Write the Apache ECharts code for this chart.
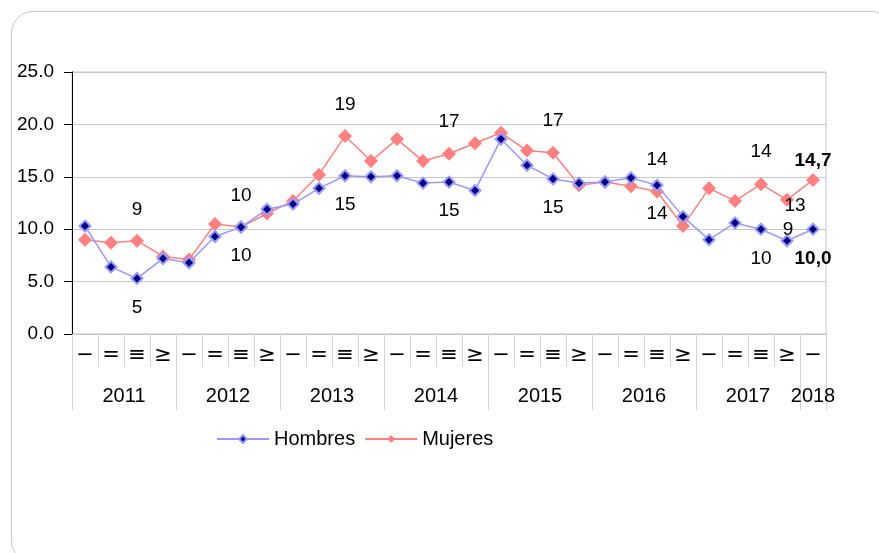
<!DOCTYPE html>
<html>
<head>
<meta charset="utf-8">
<script src="https://cdn.jsdelivr.net/npm/echarts@6/dist/echarts.min.js"></script>
<style>
  html, body { margin: 0; padding: 0; background: #fff; }
  #frame { position: absolute; left: 11px; top: 11px; width: 880px; height: 550px;
           border: 1.5px solid #c8c8c8; border-radius: 22px; }
  #chart { position: absolute; left: 0; top: 0; width: 879px; height: 553px; }
</style>
</head>
<body>
<div id="frame"></div>
<div id="chart"></div>
<script>
// trimestres tal como aparecen en el gráfico
let quarters = ['−', '=', '≡', '≥'];
let years = ['2011', '2012', '2013', '2014', '2015', '2016', '2017', '2018'];
let hombres = [10.3, 6.4, 5.3, 7.2, 6.8, 9.3, 10.2, 11.9,
               12.4, 13.9, 15.1, 15.0, 15.1, 14.4, 14.5, 13.7,
               18.6, 16.1, 14.8, 14.4, 14.5, 14.9, 14.2, 11.2,
               9.0, 10.6, 10.0, 8.9, 10.0];
let mujeres = [9.0, 8.7, 8.9, 7.4, 7.1, 10.5, 10.2, 11.5,
               12.7, 15.2, 18.9, 16.5, 18.6, 16.5, 17.2, 18.2,
               19.2, 17.5, 17.3, 14.2, 14.5, 14.1, 13.6, 10.3,
               13.9, 12.7, 14.3, 12.8, 14.7];
let yTicks = [0, 5, 10, 15, 20, 25];

// which points carry a value label: [index, dx, dy, bold]
let hombresLabels = [[2, 0, 29], [6, 0, 29], [10, 0, 29], [14, 0, 29], [18, 0, 29],
                     [22, 0, -25], [26, 0, 30], [27, 1, -11], [28, 0, 30, true]];
let mujeresLabels = [[2, 0, -31], [6, 0, -31], [10, 0, -31], [14, 0, -32], [18, 0, -32],
                     [22, 0, 22], [26, 0, -32], [27, 8, 6], [28, 0, -19, true]];

window.addEventListener('load', function () {
    let chart = echarts.init(document.getElementById('chart'));

    let cats = [];
    years.forEach(function (y, i) {
        let n = i === years.length - 1 ? 1 : quarters.length;
        for (let q = 0; q < n; q++) cats.push(quarters[q]);
    });

    // second axis on half-quarter steps, so year names sit in the middle of their group
    let yearSlots = [];
    let yearEdges = [];
    for (let k = 0; k <= cats.length * 2; k++) yearSlots.push('');
    let pos = 0;
    years.forEach(function (y, i) {
        let n = i === years.length - 1 ? 1 : quarters.length;
        yearEdges.push(pos * 2);
        yearSlots[pos * 2 + n] = y;
        pos += n;
    });
    yearEdges.push(pos * 2);

    function makeData(values, labels) {
        return values.map(function (v, i) {
            let spec = labels.find(function (l) { return l[0] === i; });
            if (!spec) return v;
            return {
                value: v,
                label: {
                    show: true,
                    position: 'inside',
                    offset: [spec[1], spec[2]],
                    color: '#000',
                    fontFamily: 'Liberation Sans',
                    fontSize: 19,
                    fontWeight: spec[3] ? 'bold' : 'normal',
                    formatter: function (p) {
                        return spec[3] ? p.value.toFixed(1).replace('.', ',') : String(Math.round(p.value));
                    }
                }
            };
        });
    }

    let option = {
        animation: false,
        textStyle: { fontFamily: 'Liberation Sans', color: '#000' },
        grid: { left: 72, right: 53, top: 72, bottom: 219, show: true,
                borderColor: '#c4c4c4', borderWidth: 1 },
        legend: {
            left: 211, top: 424,
            itemWidth: 52, itemHeight: 10, itemGap: 9,
            textStyle: { fontSize: 20, color: '#000', fontFamily: 'Liberation Sans' },
            data: ['Hombres', 'Mujeres']
        },
        xAxis: [{
            type: 'category',
            data: cats,
            boundaryGap: true,
            axisLine: { lineStyle: { color: '#c4c4c4' } },
            axisTick: { show: true, interval: 0, length: 33, lineStyle: { color: '#d4d4d4' } },
            axisLabel: { interval: 0, fontSize: 21, margin: 11, color: '#000',
                         fontFamily: 'DejaVu Sans' }
        }, {
            type: 'category',
            data: yearSlots,
            boundaryGap: false,
            position: 'bottom',
            axisLine: { show: false },
            axisTick: { show: true, length: 76, lineStyle: { color: '#d4d4d4' },
                        interval: function (idx) { return yearEdges.indexOf(idx) >= 0; } },
            axisLabel: { interval: 0, fontSize: 20, margin: 52, color: '#000' }
        }],
        yAxis: {
            type: 'value',
            min: yTicks[0], max: yTicks[yTicks.length - 1], interval: 5,
            axisLine: { show: true, lineStyle: { color: '#000' } },
            axisTick: { show: true, length: 8, lineStyle: { color: '#000' } },
            splitLine: { lineStyle: { color: '#c8c8c8' } },
            axisLabel: { fontSize: 19, margin: 18, color: '#000',
                         formatter: function (v) { return v.toFixed(1); } }
        },
        series: [{
            name: 'Hombres',
            type: 'line',
            data: makeData(hombres, hombresLabels),
            symbol: 'diamond',
            symbolSize: 11,
            itemStyle: { color: '#000080', borderColor: '#9999ff', borderWidth: 2 },
            lineStyle: { color: '#9999ff', width: 1.5 },
            z: 3
        }, {
            name: 'Mujeres',
            type: 'line',
            data: makeData(mujeres, mujeresLabels),
            symbol: 'diamond',
            symbolSize: 14,
            itemStyle: { color: '#ff8080' },
            lineStyle: { color: '#ff8080', width: 1.5 },
            z: 2
        }]
    };

    chart.setOption(option);
}, false);
</script>
</body>
</html>
